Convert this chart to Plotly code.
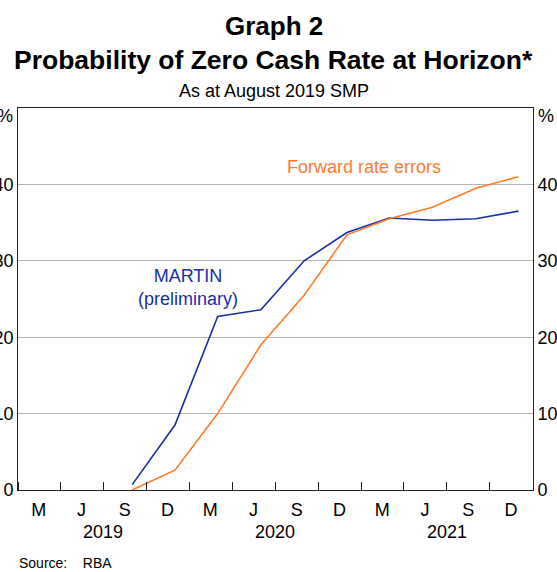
import plotly.graph_objects as go

dates = ['2019-09-01', '2019-12-01', '2020-03-01', '2020-06-01', '2020-09-01',
         '2020-12-01', '2021-03-01', '2021-06-01', '2021-09-01', '2021-12-01']
martin = [0.7, 8.5, 22.7, 23.6, 30.0, 33.7, 35.6, 35.3, 35.5, 36.5]
forward = [0.0, 2.6, 10.0, 19.0, 25.5, 33.4, 35.5, 37.0, 39.5, 41.0]

quarter_mids = ['2019-02-14', '2019-05-16', '2019-08-16', '2019-11-15',
                '2020-02-14', '2020-05-16', '2020-08-16', '2020-11-15',
                '2021-02-14', '2021-05-16', '2021-08-16', '2021-11-15']
quarter_labels = ['M', 'J', 'S', 'D'] * 3
years = ['2019', '2020', '2021']
year_mids = ['2019-07-01', '2020-07-01', '2021-07-01']
y_ticks = [0, 10, 20, 30, 40]

blue = '#1a2ea6'
orange = '#ff7b2c'
font = 'Liberation Sans, Arial, sans-serif'

fig = go.Figure()
fig.add_trace(go.Scatter(x=dates, y=martin, mode='lines',
                         line=dict(color=blue, width=1.6), name='MARTIN'))
fig.add_trace(go.Scatter(x=dates, y=forward, mode='lines', yaxis='y2',
                         line=dict(color=orange, width=1.6), name='Forward rate errors'))

yax = dict(range=[0, 50], tickvals=y_ticks, ticks='', showgrid=True,
           gridcolor='#b4b4b4', gridwidth=1, zeroline=False, showline=True,
           linecolor='#222', linewidth=1, automargin=False,
           tickfont=dict(size=18, color='black'))

fig.update_layout(
    width=557, height=572,
    template='none',
    showlegend=False,
    paper_bgcolor='white', plot_bgcolor='white',
    margin=dict(l=18, r=24, t=108, b=82),
    font=dict(family=font, color='black'),
    xaxis=dict(type='date', range=['2019-01-01', '2022-01-01'],
               tickmode='array', tickvals=quarter_mids, ticktext=quarter_labels,
               ticks='', showgrid=False, zeroline=False,
               showline=True, mirror=True, linecolor='#222', linewidth=1,
               tickfont=dict(size=18, color='black'), automargin=False,
               ticklabelstandoff=3,
               minor=dict(ticks='inside', tick0='2019-01-01', dtick='M3',
                          ticklen=8, tickcolor='#222', tickwidth=1, showgrid=False)),
    yaxis=dict(side='left', **yax),
    yaxis2=dict(side='right', overlaying='y', **yax),
)

fig.update_yaxes(showgrid=False, selector=dict(overlaying='y'))


def py(p):
    # reference page pixel row -> paper coordinate
    return (490 - p) / 382


annotations = [
    dict(text='<b>Graph 2</b>', x=0.497, y=py(26), font=dict(size=26)),
    dict(text='<b>Probability of Zero Cash Rate at Horizon*</b>', x=0.497,
         y=py(60), font=dict(size=26.5)),
    dict(text='As at August 2019 SMP', x=0.497, y=py(91), font=dict(size=18)),
    dict(text='MARTIN<br>(preliminary)', x=0.330, y=py(287),
         font=dict(size=18, color=blue)),
    dict(text='Forward rate errors', x=0.671, y=py(167),
         font=dict(size=18, color=orange)),
    dict(text='%', x=0, xanchor='right', xshift=-3, y=py(116), font=dict(size=18)),
    dict(text='%', x=1, xanchor='left', xshift=3, y=py(116), font=dict(size=18)),
    dict(text='Source:\u00a0\u00a0\u00a0\u00a0RBA', x=-0.002, xanchor='left',
         y=py(563), font=dict(size=14)),
]
for a in annotations:
    a.setdefault('xanchor', 'center')
    fig.add_annotation(xref='paper', yref='paper', yanchor='middle',
                       showarrow=False, **a)

for yr, mid in zip(years, year_mids):
    fig.add_annotation(text=yr, x=mid, xref='x', y=py(532), yref='paper',
                       yanchor='middle', showarrow=False, font=dict(size=18))

# drop the default body margin so the figure sits at the top-left corner
fig.write_html('out.html', config={'displayModeBar': False},
               post_script="document.body.style.margin='0';document.body.style.overflow='hidden';")
